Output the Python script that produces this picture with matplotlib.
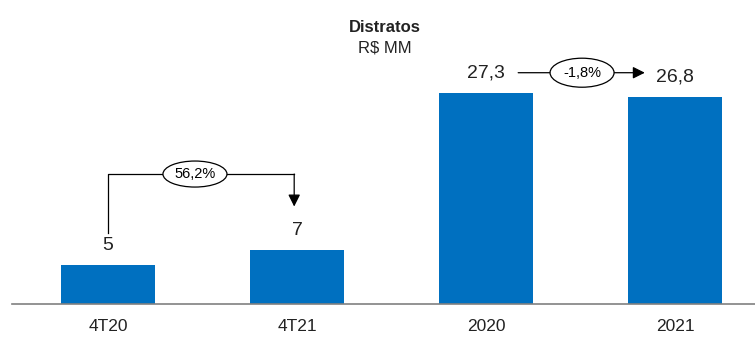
import matplotlib
matplotlib.use("Agg")
import matplotlib.pyplot as plt
from matplotlib.patches import Ellipse

############################
# DATA
############################
categories = ["4T20", "4T21", "2020", "2021"]
values = [5.0, 7.0, 27.3, 26.8]
value_labels = ["5", "7", "27,3", "26,8"]
var_quarter = "56,2%"
var_year = "-1,8%"

BLUE = "#0070C0"
plt.rcParams["font.family"] = ["Liberation Sans Narrow", "Liberation Sans", "DejaVu Sans"]

############################
# FIGURE
############################
W, H = 755, 340
fig = plt.figure(figsize=(W / 100, H / 100), dpi=100)
ax = fig.add_axes([12 / W, 36 / H, (W - 12) / W, (H - 36) / H])

x = list(range(len(categories)))
ax.bar(x, values, width=0.5, color=BLUE, zorder=2)
ax.set_xlim(-0.508, 3.423)
ax.set_ylim(0, 39.3)

for xi, v, lab in zip(x, values, value_labels):
    ax.text(xi, v + 1.4, lab, ha="center", va="bottom", fontsize=14, color="#222222")

ax.set_xticks(x)
ax.set_xticklabels(categories, fontsize=12.5, color="#222222")
ax.tick_params(axis="x", length=0, pad=11)
ax.set_yticks([])
for s in ["top", "right", "left"]:
    ax.spines[s].set_visible(False)
ax.spines["bottom"].set_color("#808080")
ax.spines["bottom"].set_linewidth(1.2)

# title
fig.text(385 / W, 1 - 27 / H, "Distratos", ha="center", va="center",
         fontsize=12, fontweight="bold", color="#222222")
fig.text(385 / W, 1 - 48 / H, "R$ MM", ha="center", va="center",
         fontsize=12, color="#222222")

# bracket arrow 4T20 -> 4T21
y_top = 16.8
ax.plot([0, 0, x[1] - 0.015], [values[0] + 4.2, y_top, y_top], color="black", lw=0.9, zorder=3)
ax.annotate("", xy=(x[1] - 0.015, values[1] + 5.6), xytext=(x[1] - 0.015, y_top),
            arrowprops=dict(arrowstyle="-|>", color="black", lw=0.9, mutation_scale=18,
                            shrinkA=0, shrinkB=0))
ell_w = 64 / 189
ax.add_patch(Ellipse((0.46, y_top), ell_w, 26 / 7.73, facecolor="white",
                     edgecolor="black", lw=0.9, zorder=4))
ax.text(0.46, y_top, var_quarter, ha="center", va="center", fontsize=10.5, zorder=5)

# horizontal arrow 2020 -> 2021
y_ar = 29.9
ax.annotate("", xy=(2.84, y_ar), xytext=(2.17, y_ar),
            arrowprops=dict(arrowstyle="-|>", color="black", lw=0.9, mutation_scale=18,
                            shrinkA=0, shrinkB=0))
ax.add_patch(Ellipse((2.508, y_ar), ell_w, 29 / 7.73, facecolor="white",
                     edgecolor="black", lw=0.9, zorder=4))
ax.text(2.508, y_ar, var_year, ha="center", va="center", fontsize=10.5, zorder=5)

fig.savefig("out.png", dpi=100)
